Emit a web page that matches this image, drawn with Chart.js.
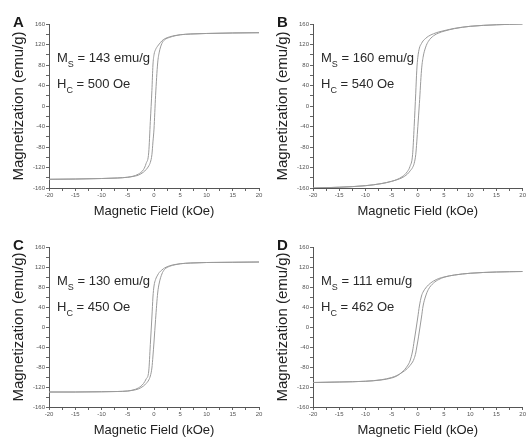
<!DOCTYPE html>
<html>
<head>
<meta charset="utf-8">
<script src="https://cdn.jsdelivr.net/npm/chart.js@4.4.1/dist/chart.umd.min.js"></script>
<style>
  body { margin: 0; background: #fff; }
  #wrap { position: relative; width: 527px; height: 439px; overflow: hidden; }
  canvas { position: absolute; }
</style>
</head>
<body>
<div id="wrap">
  <canvas id="panelA" width="264" height="220" style="left:0;top:0"></canvas>
  <canvas id="panelB" width="263" height="220" style="left:264px;top:0"></canvas>
  <canvas id="panelC" width="264" height="219" style="left:0;top:220px"></canvas>
  <canvas id="panelD" width="263" height="219" style="left:264px;top:220px"></canvas>
</div>
<script>
// applied field (kOe), shared by every branch
const fieldKOe = [-20, -15, -10, -7, -5, -4, -3, -2, -1.5, -1, -0.7, -0.4, -0.2,
                  0, 0.3, 0.7, 1, 1.5, 2, 3, 4, 5, 7, 10, 15, 20];

// magnetization (emu/g): descending branch (field swept +20 -> -20)
const downA = [-143, -142.5, -141.5, -140.5, -139, -137, -133, -124, -112, -90, -30, 30, 80,
               100, 110, 117, 121, 127, 131, 135, 137.5, 139, 140.5, 141.5, 142.5, 143];
const downB = [-160, -158.5, -155.5, -151.5, -147, -143.5, -138, -128, -118, -95, -40, 25, 70,
               95, 113, 122, 127, 132, 136, 141, 144.5, 147, 151.5, 155.5, 158.5, 160];
const downC = [-130, -130, -129.5, -129, -128, -126, -122, -113, -104, -88, -35, 20, 60,
               82, 95, 104, 109, 114, 118, 122.5, 125, 126.5, 128, 129, 129.5, 130];
const downD = [-111, -110, -108.5, -106, -102, -98, -90, -78, -68, -48, -28, -8, 6,
               20, 42, 62, 70, 78, 84, 92, 97, 100, 104, 107.5, 110, 111];

// ascending branch (field swept -20 -> +20)
const upA = [-143, -142.5, -141.5, -140.5, -139, -137.5, -135, -129, -124, -117, -110, -95, -70,
             -45, 20, 84, 105, 122, 129, 134, 137, 139, 140.5, 141.5, 142.5, 143];
const upB = [-160, -158.5, -155.5, -151.5, -147, -144, -140, -133, -127, -120, -112, -95, -70,
             -40, 5, 70, 95, 115, 126, 137, 142.5, 146, 151, 155.5, 158.5, 160];
const upC = [-130, -130, -129.5, -129, -128, -126.5, -124, -118, -113, -106, -98, -82, -58,
             -30, 15, 68, 88, 106, 115, 121.5, 124.5, 126.5, 128, 129, 129.5, 130];
const upD = [-111, -110, -108.5, -105.5, -101, -97, -91, -83, -77, -70, -63, -52, -40,
             -28, -8, 20, 42, 62, 75, 88, 95, 99.5, 104, 107.5, 110, 111];

const panelLetters = ['A', 'B', 'C', 'D'];
const msValues = ['143', '160', '130', '111'];
const hcValues = ['500', '540', '450', '462'];

const FONT = '"Liberation Sans", Arial, sans-serif';

function toPoints(ys) {
  return fieldKOe.map((x, i) => ({ x: x, y: ys[i] }));
}

// panel letter plus the Ms / Hc note with subscripts
const notePlugin = {
  id: 'note',
  afterDraw(chart, args, opts) {
    const { ctx, chartArea } = chart;
    ctx.save();
    ctx.fillStyle = '#1a1a1a';
    ctx.textBaseline = 'alphabetic';
    ctx.font = 'bold 15px ' + FONT;
    ctx.fillText(opts.letter, chartArea.left - 36, chartArea.top + 3);

    ctx.fillStyle = '#2a2a2a';
    const line = (main, sub, rest, y) => {
      let x = chartArea.left + 8;
      ctx.font = '13px ' + FONT;
      ctx.fillText(main, x, y);
      x += ctx.measureText(main).width;
      ctx.font = '9px ' + FONT;
      ctx.fillText(sub, x, y + 5);
      x += ctx.measureText(sub).width;
      ctx.font = '13px ' + FONT;
      ctx.fillText(rest, x, y);
    };
    line('M', 'S', ' = ' + opts.ms + ' emu/g', chartArea.top + 38);
    line('H', 'C', ' = ' + opts.hc + ' Oe', chartArea.top + 64);
    ctx.restore();
  }
};

function makePanel(id, idx, down, up, topPad, rightPad) {
  const lineStyle = {
    showLine: true,
    borderColor: '#9a9a9a',
    borderWidth: 1,
    pointRadius: 0,
    cubicInterpolationMode: 'monotone',
    fill: false
  };
  return new Chart(document.getElementById(id), {
    type: 'scatter',
    data: {
      datasets: [
        Object.assign({ data: toPoints(down) }, lineStyle),
        Object.assign({ data: toPoints(up) }, lineStyle)
      ]
    },
    options: {
      responsive: false,
      animation: false,
      devicePixelRatio: 1,
      layout: { padding: { left: 4, top: topPad, right: rightPad, bottom: 0 } },
      plugins: {
        legend: { display: false },
        tooltip: { enabled: false },
        note: { letter: panelLetters[idx], ms: msValues[idx], hc: hcValues[idx] }
      },
      scales: {
        x: {
          type: 'linear',
          min: -20,
          max: 20,
          afterFit: s => { s.height = 32; },
          border: { color: '#555', width: 1 },
          grid: { drawOnChartArea: false, tickLength: 3, color: '#666' },
          ticks: {
            stepSize: 2.5,
            autoSkip: false,
            maxRotation: 0,
            padding: 1,
            color: '#555',
            font: { size: 6, family: FONT },
            callback: v => (v % 5 === 0 ? String(v) : '')
          },
          title: {
            display: true,
            text: 'Magnetic Field (kOe)',
            color: '#222',
            font: { size: 13, family: FONT },
            padding: { top: 0, bottom: 1 }
          }
        },
        y: {
          min: -160,
          max: 160,
          afterFit: s => { s.width = 45; },
          border: { color: '#555', width: 1 },
          grid: { drawOnChartArea: false, tickLength: 3, color: '#666' },
          ticks: {
            stepSize: 20,
            autoSkip: false,
            padding: 1,
            color: '#555',
            font: { size: 6, family: FONT },
            callback: v => (v % 40 === 0 ? String(v) : '')
          },
          title: {
            display: true,
            text: 'Magnetization (emu/g)',
            color: '#222',
            font: { size: 15, family: FONT },
            padding: { top: 6, bottom: 0 }
          }
        }
      }
    },
    plugins: [notePlugin]
  });
}

makePanel('panelA', 0, downA, upA, 24, 5);
makePanel('panelB', 1, downB, upB, 24, 4);
makePanel('panelC', 2, downC, upC, 27, 5);
makePanel('panelD', 3, downD, upD, 27, 4);
</script>
</body>
</html>
